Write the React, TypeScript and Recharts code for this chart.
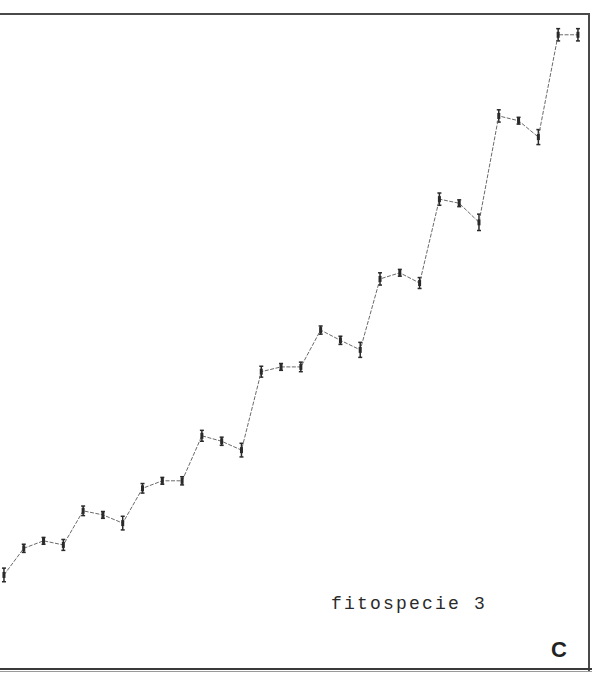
import { LineChart, Line, XAxis, YAxis, ErrorBar } from 'recharts';

// sampling index along the horizontal axis (no tick labels in the original)
const samples = [
    0, 1, 2, 3, 4, 5, 6, 7, 8, 9,
    10, 11, 12, 13, 14, 15, 16, 17, 18, 19,
    20, 21, 22, 23, 24, 25, 26, 27, 28, 29,
];

// cumulative value (arbitrary units, 0..100 over full height)
const values = [
    15.7, 19.6, 20.7, 20.1, 25.1, 24.5, 23.3, 28.4, 29.5, 29.5,
    36.1, 35.3, 34.0, 45.5, 46.2, 46.2, 51.6, 50.1, 48.7, 59.1,
    60.0, 58.5, 70.8, 70.2, 67.4, 83.0, 82.3, 79.9, 94.9, 94.9,
];

// half height of the little error bars
const errors = [
    1.0, 0.6, 0.5, 0.8, 0.7, 0.5, 1.0, 0.7, 0.5, 0.6,
    0.8, 0.6, 1.0, 0.8, 0.5, 0.7, 0.6, 0.6, 1.1, 0.9,
    0.5, 0.8, 0.9, 0.5, 1.2, 0.9, 0.5, 1.1, 0.9, 0.9,
];

const label = 'fitospecie 3';
const panel = 'C';

const data = samples.map((s, i) => ({ s, v: values[i], err: errors[i] }));

const Marker = (props: any) => {
    const { cx, cy, index } = props;
    if (cx == null || cy == null) return <g key={`m${index}`} />;
    return <rect key={`m${index}`} x={cx - 1.5} y={cy - 3} width={3} height={6} fill="#2a2a2a" />;
};

export default function App() {
    return (
        <div style={{ position: 'relative', width: 592, height: 682, background: '#fff', overflow: 'hidden' }}>
            <style>{`body{margin:0}`}</style>
            {/* frame lines of the scanned panel */}
            <div style={{ position: 'absolute', left: 0, top: 13, width: 590, height: 2, background: '#4a4a4a' }} />
            <div style={{ position: 'absolute', left: 588, top: 13, width: 2, height: 658, background: '#4a4a4a' }} />
            <div style={{ position: 'absolute', left: 0, top: 668, width: 592, height: 2, background: '#3a3a3a' }} />
            <div style={{ position: 'absolute', left: 0, top: 671, width: 592, height: 1, background: '#9a9a9a' }} />

            <LineChart
                width={592}
                height={682}
                data={data}
                margin={{ top: 0, right: 0, bottom: 0, left: 0 }}
                style={{ position: 'absolute', left: 0, top: 0 }}
            >
                <XAxis dataKey="s" type="number" domain={[-0.2, 29.71]} hide />
                <YAxis type="number" domain={[0, 100]} hide />
                <Line
                    type="linear"
                    dataKey="v"
                    stroke="#6a6a6a"
                    strokeWidth={1}
                    strokeDasharray="4 1.5"
                    dot={Marker}
                    activeDot={false}
                    isAnimationActive={false}
                >
                    <ErrorBar dataKey="err" direction="y" width={2} stroke="#2a2a2a" strokeWidth={1.5} />
                </Line>
            </LineChart>

            <div
                style={{
                    position: 'absolute',
                    left: 331,
                    top: 594,
                    fontFamily: '"Liberation Mono", "DejaVu Sans Mono", monospace',
                    fontSize: 18,
                    letterSpacing: 2.2,
                    color: '#2a2a2a',
                    whiteSpace: 'nowrap',
                }}
            >
                {label}
            </div>
            <div
                style={{
                    position: 'absolute',
                    left: 551,
                    top: 637,
                    fontFamily: '"Liberation Sans", Arial, sans-serif',
                    fontSize: 22,
                    fontWeight: 'bold',
                    color: '#222',
                }}
            >
                {panel}
            </div>
        </div>
    );
}
